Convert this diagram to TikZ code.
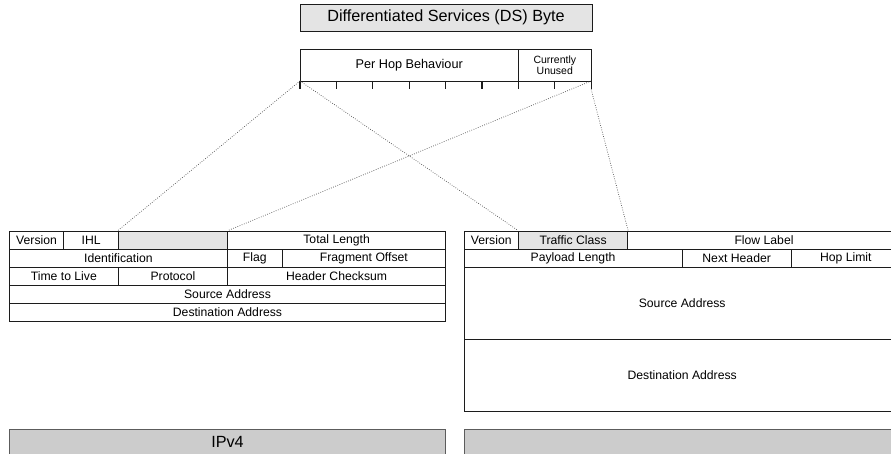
\documentclass[tikz,border=0pt]{standalone}
\usepackage{fontspec}
\setmainfont{Liberation Sans}
\definecolor{linec}{HTML}{1C1C1C}
\definecolor{hilite}{HTML}{E4E4E4}
\definecolor{barfill}{HTML}{CCCCCC}
\definecolor{barline}{HTML}{5C5C5C}
\definecolor{dotc}{HTML}{4A4A4A}
\newcommand\tabfont{\fontsize{12.2}{14}\selectfont}
\newcommand\titlefont{\fontsize{16.2}{18}\selectfont}
% header field: [style]{name}{x0}{y0}{x1}{y1}{text}
\newcommand\hcell[7][]{%
  \node[cellbox,#1,minimum width={(#5-#3)*1pt},minimum height={(#6-#4)*1pt}]
    (#2) at ({(#3+#5)/2},{(#4+#6)/2}) {#7};}
\begin{document}
\begin{tikzpicture}[x=1pt,y=-1pt,
  cellbox/.style={draw=linec,line width=0.9pt,inner sep=0pt,anchor=center,font=\tabfont},
  shaded/.style={fill=hilite},
  bar/.style={draw=barline,fill=barfill,line width=1pt,inner sep=0pt,anchor=center,font=\titlefont},
  tick/.style={draw=linec,line width=1.2pt},
  conn/.style={draw=dotc,line width=0.7pt,dash pattern=on 0.7pt off 1.6pt}]
\useasboundingbox (0,0) rectangle (891,454);

% DS byte title and bit layout
\hcell[shaded,font=\titlefont]{ds}{300}{4}{592}{31.5}{Differentiated Services (DS) Byte}
\hcell{phb}{300}{49}{518.4}{81}{\fontsize{12.7}{14}\selectfont Per Hop Behaviour}
\hcell[align=center,font={\fontsize{10.5}{11.2}\selectfont}]{cu}{518.4}{49}{591.2}{81}{Currently\\Unused}

% bit ticks under the DS byte
\foreach \k in {0,...,8}{
  \coordinate (t\k) at ({300+\k*36.4},81);
  \coordinate (b\k) at ({300+\k*36.4},89.5);
  \draw[tick] (t\k) -- (b\k);
}

% IPv4 header
\hcell{v4ver}{9.3}{231}{63.85}{249}{Version}
\hcell{v4ihl}{63.85}{231}{118.4}{249}{IHL}
\hcell[shaded]{v4tos}{118.4}{231}{227.5}{249}{}
\hcell{v4len}{227.5}{231}{445.7}{249}{Total Length}
\hcell{v4id}{9.3}{249}{227.5}{267}{Identification}
\hcell{v4flag}{227.5}{249}{282.05}{267}{Flag}
\hcell{v4frag}{282.05}{249}{445.7}{267}{Fragment Offset}
\hcell{v4ttl}{9.3}{267}{118.4}{285}{Time to Live}
\hcell{v4proto}{118.4}{267}{227.5}{285}{Protocol}
\hcell{v4sum}{227.5}{267}{445.7}{285}{Header Checksum}
\hcell{v4src}{9.3}{285}{445.7}{303}{Source Address}
\hcell{v4dst}{9.3}{303}{445.7}{321}{Destination Address}

% IPv6 header
\hcell{v6ver}{464}{231}{518.55}{249}{Version}
\hcell[shaded]{v6tc}{518.55}{231}{627.65}{249}{Traffic Class}
\hcell{v6flow}{627.65}{231}{900.4}{249}{Flow Label}
\hcell{v6plen}{464}{249}{682.1}{267}{\raisebox{1pt}{Payload Length}}
\hcell{v6nh}{682.1}{249}{791.2}{267}{\raisebox{-1pt}{Next Header}}
\hcell{v6hop}{791.2}{249}{900.4}{267}{\raisebox{1pt}{Hop Limit}}
\hcell{v6src}{464}{267}{900.4}{339}{Source Address}
\hcell{v6dst}{464}{339}{900.4}{411}{Destination Address}

% caption bars
\node[bar,minimum width=436.4pt,minimum height=26pt] (v4bar) at (227.5,442.3) {IPv4};
\node[bar,minimum width=436.4pt,minimum height=26pt] (v6bar) at (682.2,442.3) {};

% mapping of the DS byte onto both headers
\draw[conn] (t0) -- (v4tos.north west);
\draw[conn] (t0) -- (v6tc.north west);
\draw[conn] (t8) -- (v4tos.north east);
\draw[conn] (b8) -- (v6tc.north east);
\end{tikzpicture}
\end{document}
